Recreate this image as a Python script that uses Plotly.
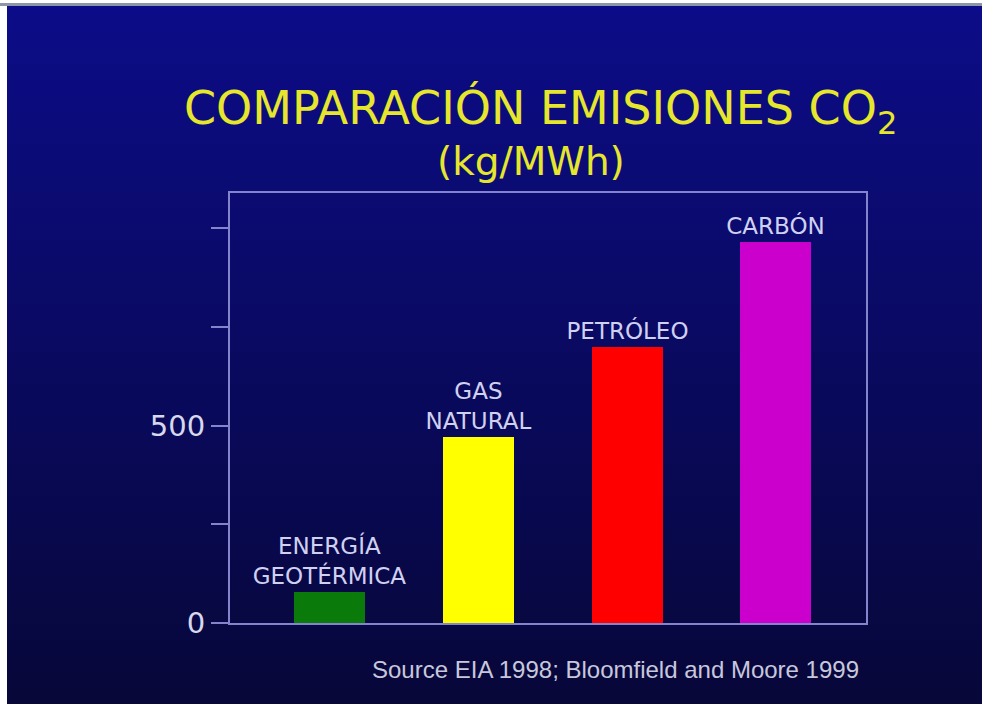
import plotly.graph_objects as go

# data
categories = ["Geotérmica", "Gas natural", "Petróleo", "Carbón"]
bar_labels = ["ENERGÍA<br>GEOTÉRMICA", "GAS<br>NATURAL", "PETRÓLEO", "CARBÓN"]
emissions = [78, 471, 699, 965]  # kg/MWh
bar_colors = ["#0a7a0a", "#ffff00", "#ff0000", "#cc00cc"]
major_ticks = [0, 500]
minor_ticks = [250, 750, 1000]

W, H = 982, 704
ML, MR, MT, MB = 230, 116, 193, 81
PW, PH = W - ML - MR, H - MT - MB


def px_x(px):
    # page pixel -> paper coordinate
    return (px - ML) / PW


def px_y(py):
    return (H - MB - py) / PH


fig = go.Figure()

fig.add_trace(go.Bar(
    x=categories,
    y=emissions,
    marker=dict(color=bar_colors, line=dict(width=0)),
    width=0.477,
    text=bar_labels,
    textposition="outside",
    constraintext="none",
    cliponaxis=False,
    textfont=dict(family="DejaVu Sans", size=23, color="#d0d0f0"),
    hoverinfo="x+y",
))

# background: vertical gradient built from thin bands
shapes = []
top_c = (12, 12, 136)
bot_c = (7, 7, 58)
n = 44
for i in range(n):
    t = i / (n - 1)
    c = tuple(int(round(a + (b - a) * t)) for a, b in zip(top_c, bot_c))
    y0 = i * H / n
    y1 = (i + 1) * H / n + 1
    shapes.append(dict(
        type="rect", xref="paper", yref="paper", layer="below",
        x0=px_x(0), x1=px_x(W), y0=px_y(y1), y1=px_y(y0),
        fillcolor="rgb(%d,%d,%d)" % c, line=dict(width=0),
    ))
# white scan borders on the left and top of the slide
shapes.append(dict(type="rect", xref="paper", yref="paper", layer="below",
                   x0=px_x(0), x1=px_x(7), y0=px_y(H), y1=px_y(0),
                   fillcolor="#ffffff", line=dict(width=0)))
shapes.append(dict(type="rect", xref="paper", yref="paper", layer="below",
                   x0=px_x(0), x1=px_x(W), y0=px_y(6), y1=px_y(0),
                   fillcolor="#8c96a8", line=dict(width=0)))
shapes.append(dict(type="rect", xref="paper", yref="paper", layer="below",
                   x0=px_x(0), x1=px_x(W), y0=px_y(3), y1=px_y(0),
                   fillcolor="#ffffff", line=dict(width=0)))

annotations = [
    dict(text="COMPARACIÓN EMISIONES CO<sub>2</sub>", xref="paper", yref="paper",
         x=px_x(540), y=px_y(111), xanchor="center", yanchor="middle",
         showarrow=False, font=dict(family="DejaVu Sans", size=46, color="#e6e62c")),
    dict(text="(kg/MWh)", xref="paper", yref="paper",
         x=px_x(531), y=px_y(161), xanchor="center", yanchor="middle",
         showarrow=False, font=dict(family="DejaVu Sans", size=39, color="#e6e62c")),
    dict(text="Source EIA 1998; Bloomfield and Moore 1999", xref="paper", yref="paper",
         x=px_x(861), y=px_y(669), xanchor="right", yanchor="middle",
         showarrow=False, font=dict(family="Liberation Sans", size=24, color="#c8c8dc")),
]

axis_col = "#8484cc"
fig.update_layout(
    width=W, height=H, autosize=False,
    margin=dict(l=ML, r=MR, t=MT, b=MB, pad=0),
    paper_bgcolor="#0a0a60",
    plot_bgcolor="rgba(0,0,0,0)",
    showlegend=False,
    shapes=shapes,
    annotations=annotations,
    bargap=0,
)
fig.update_xaxes(
    range=[-0.669, 3.606], showticklabels=False, ticks="",
    showgrid=False, zeroline=False,
    showline=True, mirror=True, linecolor=axis_col, linewidth=2,
)
fig.update_yaxes(
    range=[0, 1088.6], tickvals=major_ticks,
    ticks="outside", ticklen=17, tickwidth=2, tickcolor=axis_col,
    minor=dict(tickvals=minor_ticks, ticks="outside", ticklen=17,
               tickwidth=2, tickcolor=axis_col, showgrid=False),
    tickfont=dict(family="DejaVu Sans", size=29, color="#d8d8ec"),
    showgrid=False, zeroline=False,
    showline=True, mirror=True, linecolor=axis_col, linewidth=2,
)

# drop the browser's default page margin so the figure fills the window
fig.write_html("out.html",
               config={"displayModeBar": False},
               post_script="document.body.style.margin='0';"
                           "document.body.style.overflow='hidden';")
